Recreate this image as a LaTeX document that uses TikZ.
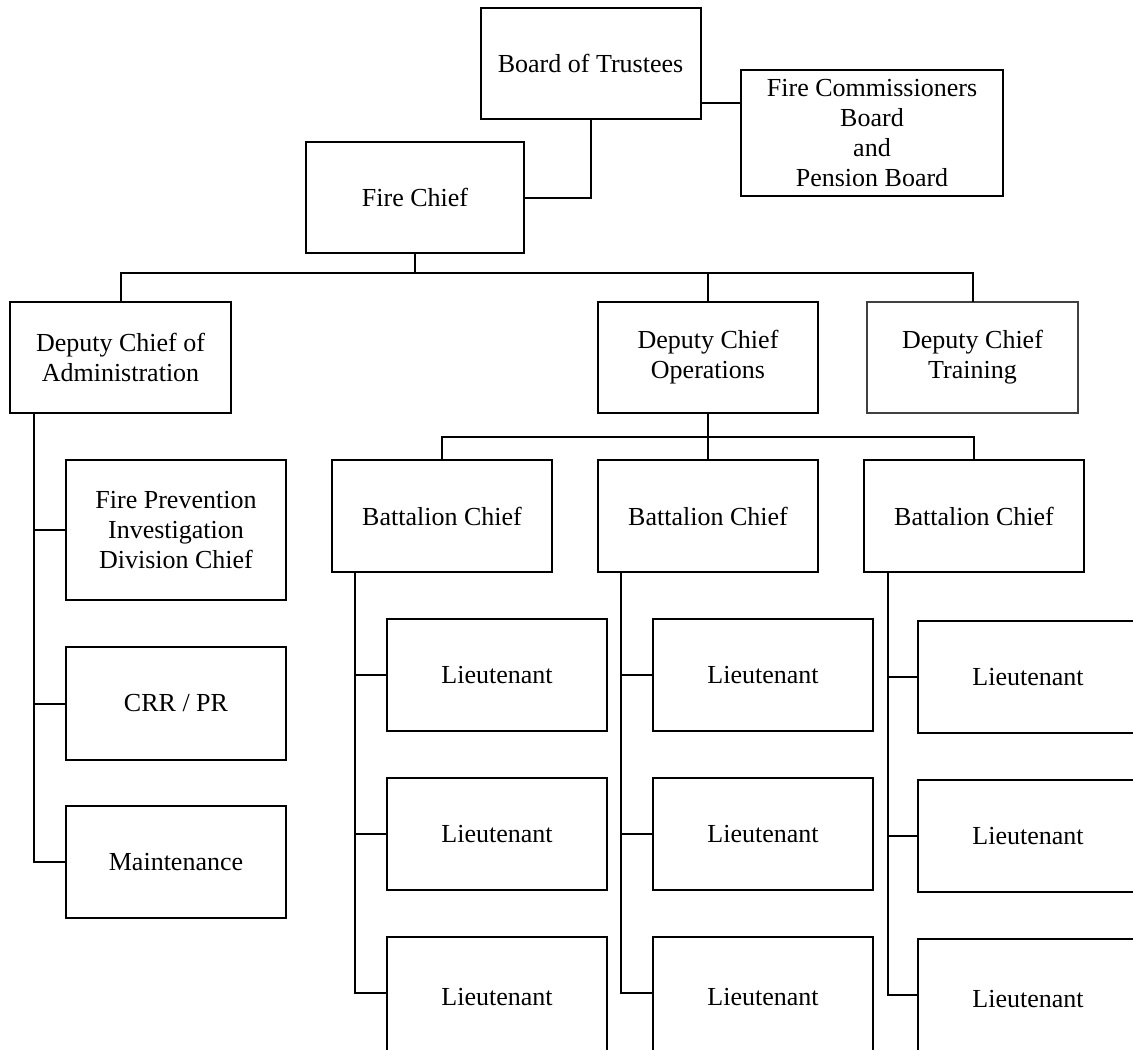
\documentclass[tikz,border=0pt]{standalone}
\usepackage{fontspec}
\setmainfont{Liberation Serif}
\begin{document}
\begin{tikzpicture}[x=0.5pt,y=-0.5pt,
  box/.style={draw, line width=1pt, inner sep=0pt, outer sep=0pt, align=center,
    font=\fontsize{13}{15}\selectfont, minimum width=110pt, minimum height=56pt},
  thinbox/.style={box, line width=0.6pt, draw=black!75},
  lastbox/.style={box, minimum height=60pt},
  conn/.style={line width=1pt}]
\useasboundingbox (0,0) rectangle (1133,1049);
\clip (0,0) rectangle (1133,1049);
% top
\node[box, minimum height=55.5pt] (bot) at (590.5,63.5) {Board of Trustees};
\node[box, minimum width=131pt, minimum height=63pt] (fcb) at (872,133) {Fire Commissioners\\Board\\and\\Pension Board};
\node[box, minimum width=109pt, minimum height=55.5pt] (fc) at (415,197.5) {Fire Chief};
% deputies
\node[box, minimum width=110.5pt, minimum height=55.5pt] (adm) at (120.5,357.5) {Deputy Chief of\\Administration};
\node[box, minimum height=55.5pt] (ops) at (708,357.5) {Deputy Chief\\Operations};
\node[thinbox, minimum width=105.5pt, minimum height=55.5pt] (trn) at (972.5,357.5) {Deputy Chief\\Training};
% admin column
\node[box, minimum height=70pt] (fp) at (176,530) {Fire Prevention\\Investigation\\Division Chief};
\node[box, minimum height=56.5pt] (crr) at (176,703.5) {CRR / PR};
\node[box, minimum height=56pt] (mnt) at (176,862) {Maintenance};
% battalion chiefs
\node[box] (b1) at (442,516) {Battalion Chief};
\node[box] (b2) at (708,516) {Battalion Chief};
\node[box] (b3) at (974,516) {Battalion Chief};
% lieutenants
\node[box] (l11) at (497,675) {Lieutenant};
\node[box] (l12) at (497,834) {Lieutenant};
\node[lastbox] (l13) at (497,997) {Lieutenant};
\node[box] (l21) at (763,675) {Lieutenant};
\node[box] (l22) at (763,834) {Lieutenant};
\node[lastbox] (l23) at (763,997) {Lieutenant};
\node[box] (l31) at (1028,677) {Lieutenant};
\node[box] (l32) at (1028,836) {Lieutenant};
\node[lastbox] (l33) at (1028,999) {Lieutenant};
% connectors
\coordinate (bus) at (415,273);
\coordinate (obus) at (708,437);
\coordinate (sa) at ([xshift=12pt]adm.south west);
\coordinate (s1) at ([xshift=11.5pt]b1.south west);
\coordinate (s2) at ([xshift=11.5pt]b2.south west);
\coordinate (s3) at ([xshift=12pt]b3.south west);
\draw[conn] ([yshift=8pt]bot.south east) -- ([yshift=8pt]bot.south east -| fcb.west);
\draw[conn] (bot.south) |- (fc.east);
\draw[conn] (fc.south) -- (bus);
\draw[conn] (adm.north) |- (bus) -| (trn.north);
\draw[conn] (ops.north) -- (ops.north |- bus);
\draw[conn] (ops.south) -- (b2.north);
\draw[conn] (b1.north) |- (obus) -| (b3.north);
\draw[conn] (sa) |- (mnt.west);
\draw[conn] (fp.west) -- (fp.west -| sa);
\draw[conn] (crr.west) -- (crr.west -| sa);
\draw[conn] (s1) |- ([yshift=2pt]l13.west);
\draw[conn] (l11.west) -- (l11.west -| s1);
\draw[conn] (l12.west) -- (l12.west -| s1);
\draw[conn] (s2) |- ([yshift=2pt]l23.west);
\draw[conn] (l21.west) -- (l21.west -| s2);
\draw[conn] (l22.west) -- (l22.west -| s2);
\draw[conn] (s3) |- ([yshift=2pt]l33.west);
\draw[conn] (l31.west) -- (l31.west -| s3);
\draw[conn] (l32.west) -- (l32.west -| s3);
\end{tikzpicture}
\end{document}
